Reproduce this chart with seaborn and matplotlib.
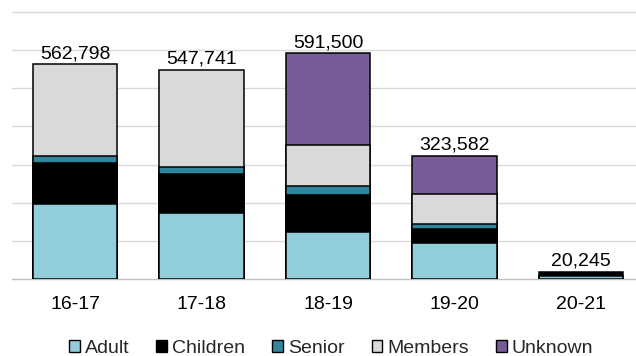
import matplotlib
matplotlib.use("Agg")
import matplotlib.pyplot as plt
import seaborn as sns
import pandas as pd
import numpy as np
from matplotlib.patches import Patch

# ---- data ----
years = ["16-17", "17-18", "18-19", "19-20", "20-21"]
series = ["Adult", "Children", "Senior", "Members", "Unknown"]
adult = [197800, 172600, 123000, 95000, 7500]
children = [105600, 102000, 98000, 36600, 12745]
senior = [20000, 19000, 23000, 14000, 0]
members = [239398, 254141, 107000, 77500, 0]
unknown = [0, 0, 240500, 100482, 0]
totals = [562798, 547741, 591500, 323582, 20245]
colors = ["#92CDDC", "#000000", "#31859C", "#D9D9D9", "#775D98"]

sns.set_theme(style="white")
plt.rcParams["font.family"] = ["Liberation Sans", "DejaVu Sans"]

fig = plt.figure(figsize=(6.36, 3.56), dpi=100)
left_px = 11.75
px_per_slot = 126.5
ax = fig.add_axes([left_px / 636, 0.2154, 1 - left_px / 636, 0.7624])

df = pd.DataFrame({"year": years, "Adult": adult, "Children": children,
                   "Senior": senior, "Members": members, "Unknown": unknown})
cum = df[series].cumsum(axis=1)

# draw from top layer down so lower layers overlay
for s, c in reversed(list(zip(series, colors))):
    d = pd.DataFrame({"year": years, "val": cum[s].values})
    d = d[df[s].values > 0] if s != "Adult" else d
    sns.barplot(data=d, x="year", y="val", order=years, color=c, width=0.67,
                edgecolor="black", linewidth=1.1, saturation=1, ax=ax, zorder=3)

ax.set_xlim(-0.5, -0.5 + (636 - left_px) / px_per_slot)
ax.set_ylim(0, 710000)
ax.set_yticks(np.arange(100000, 700001, 100000))
ax.set_yticklabels([])
ax.tick_params(axis="y", length=0)
ax.tick_params(axis="x", length=0, pad=12, labelsize=14, colors="black")
ax.grid(axis="y", color="#D9D9D9", linewidth=1.0, zorder=0)
ax.set_axisbelow(True)
ax.set_xlabel("")
ax.set_ylabel("")
for sp in ["top", "right", "left"]:
    ax.spines[sp].set_visible(False)
ax.spines["bottom"].set_color("#BFBFBF")
ax.spines["bottom"].set_linewidth(1.0)
ax.spines["bottom"].set_zorder(2)
ax.patch.set_alpha(0)

for i, t in enumerate(totals):
    ax.annotate(f"{t:,}", (i, t), xytext=(0, 1.5), textcoords="offset points",
                ha="center", va="bottom", fontsize=14, color="black")

handles = [Patch(facecolor=c, edgecolor="black", linewidth=1.0, label=s)
           for s, c in zip(series, colors)]
fig.legend(handles=handles, loc="center", bbox_to_anchor=(331 / 636, 0.022),
           ncol=5, frameon=False, fontsize=14, handlelength=0.55,
           handleheight=0.55, handletextpad=0.25, columnspacing=1.4,
           borderpad=0, borderaxespad=0)

fig.savefig("out.png", dpi=100)
